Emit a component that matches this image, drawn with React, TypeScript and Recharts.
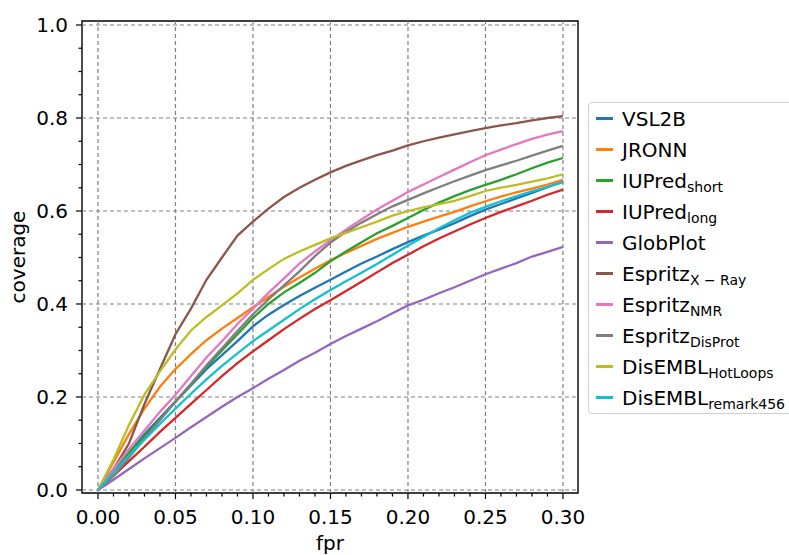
import { LineChart, Line, XAxis, YAxis, ReferenceLine, ReferenceArea, Legend } from 'recharts'

// fpr grid the curves were sampled on
const fpr = [0, 0.01, 0.02, 0.03, 0.04, 0.05, 0.06, 0.07, 0.08, 0.09, 0.1, 0.11, 0.12, 0.13, 0.14, 0.15, 0.16, 0.17, 0.18, 0.19, 0.2, 0.21, 0.22, 0.23, 0.24, 0.25, 0.26, 0.27, 0.28, 0.29, 0.3]

const vsl2b = [0, 0.04, 0.08, 0.12, 0.155, 0.19, 0.225, 0.26, 0.29, 0.32, 0.352, 0.377, 0.398, 0.417, 0.435, 0.452, 0.47, 0.487, 0.502, 0.518, 0.533, 0.547, 0.56, 0.574, 0.589, 0.603, 0.615, 0.627, 0.639, 0.651, 0.663]
const jronn = [0, 0.06, 0.12, 0.175, 0.222, 0.26, 0.292, 0.322, 0.347, 0.37, 0.393, 0.415, 0.437, 0.457, 0.476, 0.494, 0.51, 0.525, 0.54, 0.553, 0.566, 0.577, 0.588, 0.598, 0.61, 0.621, 0.631, 0.64, 0.648, 0.657, 0.667]
const iupredShort = [0, 0.04, 0.08, 0.115, 0.152, 0.19, 0.228, 0.265, 0.3, 0.335, 0.37, 0.4, 0.425, 0.445, 0.467, 0.492, 0.513, 0.533, 0.552, 0.568, 0.585, 0.602, 0.618, 0.632, 0.645, 0.656, 0.667, 0.679, 0.692, 0.704, 0.714]
const iupredLong = [0, 0.03, 0.062, 0.093, 0.125, 0.155, 0.185, 0.215, 0.245, 0.273, 0.298, 0.322, 0.346, 0.368, 0.389, 0.408, 0.428, 0.448, 0.468, 0.488, 0.506, 0.524, 0.541, 0.556, 0.571, 0.585, 0.598, 0.61, 0.622, 0.635, 0.646]
const globPlot = [0, 0.022, 0.045, 0.068, 0.09, 0.112, 0.135, 0.157, 0.179, 0.2, 0.219, 0.239, 0.258, 0.278, 0.295, 0.314, 0.331, 0.347, 0.363, 0.38, 0.397, 0.409, 0.423, 0.436, 0.45, 0.464, 0.476, 0.488, 0.502, 0.512, 0.523]
const espritzXray = [0, 0.045, 0.1, 0.185, 0.26, 0.335, 0.39, 0.452, 0.5, 0.547, 0.577, 0.605, 0.63, 0.65, 0.667, 0.683, 0.697, 0.709, 0.72, 0.73, 0.741, 0.75, 0.758, 0.765, 0.772, 0.778, 0.784, 0.789, 0.795, 0.8, 0.804]
const espritzNmr = [0, 0.045, 0.088, 0.128, 0.168, 0.205, 0.245, 0.285, 0.32, 0.357, 0.39, 0.424, 0.455, 0.487, 0.513, 0.537, 0.56, 0.582, 0.603, 0.622, 0.641, 0.657, 0.673, 0.689, 0.705, 0.72, 0.732, 0.744, 0.755, 0.764, 0.772]
const espritzDisProt = [0, 0.03, 0.07, 0.11, 0.15, 0.19, 0.228, 0.268, 0.305, 0.342, 0.378, 0.41, 0.44, 0.47, 0.503, 0.532, 0.555, 0.575, 0.593, 0.61, 0.624, 0.638, 0.651, 0.664, 0.676, 0.688, 0.698, 0.708, 0.719, 0.73, 0.74]
const hotLoops = [0, 0.065, 0.14, 0.205, 0.255, 0.302, 0.343, 0.372, 0.397, 0.423, 0.452, 0.475, 0.497, 0.513, 0.527, 0.541, 0.553, 0.565, 0.577, 0.59, 0.6, 0.608, 0.615, 0.622, 0.632, 0.643, 0.65, 0.656, 0.663, 0.67, 0.679]
const remark456 = [0, 0.038, 0.073, 0.108, 0.142, 0.175, 0.207, 0.238, 0.267, 0.294, 0.32, 0.343, 0.366, 0.389, 0.41, 0.43, 0.449, 0.467, 0.486, 0.506, 0.526, 0.544, 0.563, 0.58, 0.596, 0.609, 0.621, 0.632, 0.642, 0.652, 0.662]

const seriesKeys = ['vsl2b', 'jronn', 'iupredShort', 'iupredLong', 'globPlot', 'espritzXray', 'espritzNmr', 'espritzDisProt', 'hotLoops', 'remark456']
const seriesValues = [vsl2b, jronn, iupredShort, iupredLong, globPlot, espritzXray, espritzNmr, espritzDisProt, hotLoops, remark456]
const seriesNames = ['VSL2B', 'JRONN', 'IUPred', 'IUPred', 'GlobPlot', 'Espritz', 'Espritz', 'Espritz', 'DisEMBL', 'DisEMBL']
const seriesSubs = ['', '', 'short', 'long', '', 'X \u2212 Ray', 'NMR', 'DisProt', 'HotLoops', 'remark456']
const colors = ['#1f77b4', '#ff7f0e', '#2ca02c', '#d62728', '#9467bd', '#8c564b', '#e377c2', '#7f7f7f', '#bcbd22', '#17becf']

const xMajor = [0, 0.05, 0.1, 0.15, 0.2, 0.25, 0.3]
const yMajor = [0, 0.2, 0.4, 0.6, 0.8, 1.0]
const yTicks = [0, 0.05, 0.1, 0.15, 0.2, 0.25, 0.3, 0.35, 0.4, 0.45, 0.5, 0.55, 0.6, 0.65, 0.7, 0.75, 0.8, 0.85, 0.9, 0.95, 1.0]
const xDomain = [-0.0103, 0.3097]
const yDomain = [-0.0065, 1.0086]

const data = fpr.map((x, i) => {
  const row: any = { fpr: x }
  seriesKeys.forEach((k, j) => { row[k] = seriesValues[j][i] })
  return row
})

const FONT = '"DejaVu Sans", sans-serif'
const isMajor = (list: number[], v: number) => list.some(m => Math.abs(m - v) < 1e-9)

function XTick({ x, y, payload }: any) {
  const major = isMajor(xMajor, payload.value)
  return (
    <g>
      <line x1={x} x2={x} y1={y} y2={y + (major ? 6 : 3.5)} stroke="#000" strokeWidth={1.2} />
      {major && (
        <text x={x} y={y + 31} textAnchor="middle" fontSize={20} fontFamily={FONT} fill="#000">
          {payload.value.toFixed(2)}
        </text>
      )}
    </g>
  )
}

function YTick({ x, y, payload }: any) {
  const major = isMajor(yMajor, payload.value)
  return (
    <g>
      <line x1={x - (major ? 6 : 3.5)} x2={x} y1={y} y2={y} stroke="#000" strokeWidth={1.2} />
      {major && (
        <text x={x - 14} y={y + 7.5} textAnchor="end" fontSize={20} fontFamily={FONT} fill="#000">
          {payload.value.toFixed(1)}
        </text>
      )}
    </g>
  )
}

function LegendBox({ payload }: any) {
  const items = [...(payload || [])].sort(
    (a: any, b: any) => seriesKeys.indexOf(a.dataKey) - seriesKeys.indexOf(b.dataKey)
  )
  return (
    <div style={{ border: '1px solid #d0d0d0', borderRadius: 4, background: '#fff', fontFamily: FONT, fontSize: 20, color: '#000' }}>
      {items.map((p: any) => {
        const idx = seriesKeys.indexOf(p.dataKey)
        return (
          <div key={p.dataKey} style={{ height: 31, display: 'flex', alignItems: 'center', whiteSpace: 'nowrap' }}>
            <span style={{ display: 'inline-block', width: 17, height: 2.5, background: p.color, marginLeft: 7, marginRight: 9 }} />
            <span>{seriesNames[idx]}</span>
            {seriesSubs[idx] && (
              <span style={{ fontSize: 14, position: 'relative', top: 6 }}>{seriesSubs[idx]}</span>
            )}
          </div>
        )
      })}
    </div>
  )
}

export default function App() {
  return (
    <div style={{ position: 'absolute', left: 0, top: 0, width: 789, height: 555, overflow: 'hidden', background: '#fff' }}>
      <LineChart width={789} height={555} data={data} margin={{ top: 21, right: 211, bottom: 0, left: 0 }}>
        <XAxis
          dataKey="fpr"
          type="number"
          domain={xDomain}
          ticks={fpr}
          interval={0}
          tick={<XTick />}
          tickLine={false}
          axisLine={false}
          tickSize={0}
          tickMargin={0}
          height={62}
          label={{
            content: ({ viewBox }: any) => (
              <text x={viewBox.x + viewBox.width / 2} y={viewBox.y + 57} textAnchor="middle" fontSize={20} fontFamily={FONT} fill="#000">
                fpr
              </text>
            ),
          }}
        />
        <YAxis
          type="number"
          domain={yDomain}
          ticks={yTicks}
          interval={0}
          tick={<YTick />}
          tickLine={false}
          axisLine={false}
          tickSize={0}
          tickMargin={0}
          width={82}
          label={{
            content: ({ viewBox }: any) => (
              <text
                x={viewBox.x + 18}
                y={viewBox.y + viewBox.height / 2}
                transform={`rotate(-90 ${viewBox.x + 18} ${viewBox.y + viewBox.height / 2})`}
                textAnchor="middle"
                dominantBaseline="central"
                fontSize={20}
                fontFamily={FONT}
                fill="#000"
              >
                coverage
              </text>
            ),
          }}
        />
        {xMajor.map(v => (
          <ReferenceLine key={'gx' + v} x={v} stroke="#808080" strokeDasharray="4 3" strokeWidth={1.2} />
        ))}
        {yMajor.map(v => (
          <ReferenceLine key={'gy' + v} y={v} stroke="#808080" strokeDasharray="4 3" strokeWidth={1.2} />
        ))}
        {seriesKeys.map((k, j) => (
          <Line
            key={k}
            dataKey={k}
            name={seriesNames[j]}
            stroke={colors[j]}
            strokeWidth={2.3}
            dot={false}
            type="linear"
            isAnimationActive={false}
          />
        ))}
        <ReferenceArea x1={xDomain[0]} x2={xDomain[1]} y1={yDomain[0]} y2={yDomain[1]} fill="none" stroke="#000" strokeWidth={1.4} />
        <Legend
          layout="horizontal"
          verticalAlign="middle"
          align="center"
          itemSorter={null}
          content={<LegendBox />}
          wrapperStyle={{ left: 588, top: 102, width: 260 }}
        />
      </LineChart>
    </div>
  )
}
